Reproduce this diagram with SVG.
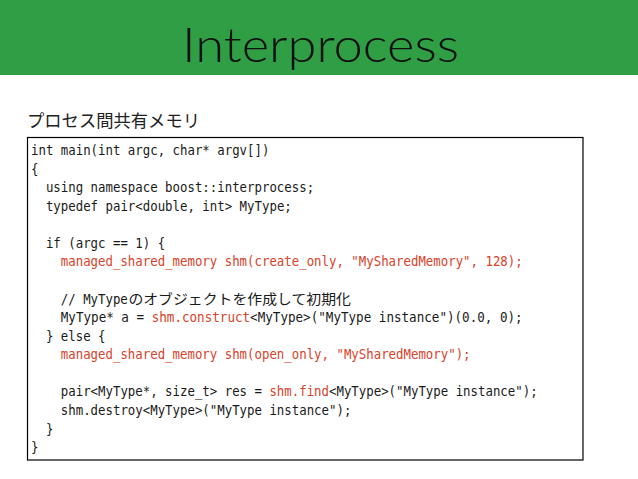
<svg xmlns="http://www.w3.org/2000/svg" width="638" height="479" viewBox="0 0 638 479">
<style>
.title{font-family:Lato,"Noto Sans","Liberation Sans",sans-serif;font-weight:300;font-size:47px;fill:#111}
.sub{font-family:"Noto Sans CJK JP","Noto Sans",sans-serif;font-size:17.5px;fill:#222}
.c{font-family:"DejaVu Sans Mono","Liberation Mono",monospace;font-size:14px;fill:#1a1a1a}
.r{fill:#d8432a}
.j{font-family:"Noto Sans CJK JP",sans-serif;font-size:14px;fill:#1a1a1a}
</style>
<g id="header">
<rect x="0" y="0" width="638" height="75" fill="#2f9e44"/>
<text class="title" x="182" y="62" textLength="277" lengthAdjust="spacingAndGlyphs">Interprocess</text>
</g>
<g id="subtitle">
<text class="sub" x="27" y="127" textLength="173" lengthAdjust="spacingAndGlyphs">プロセス間共有メモリ</text>
</g>
<g id="code">
<rect x="27.5" y="137.5" width="555.5" height="322.5" fill="#fff" stroke="#000" stroke-width="1.2"/>
<text class="c" x="31" y="155" textLength="238.4" lengthAdjust="spacingAndGlyphs">int main(int argc, char* argv[])</text>
<text class="c" x="31" y="173.6" textLength="7.45" lengthAdjust="spacingAndGlyphs">{</text>
<text class="c" x="45.9" y="192.1" textLength="268.2" lengthAdjust="spacingAndGlyphs">using namespace boost::interprocess;</text>
<text class="c" x="45.9" y="210.7" textLength="245.9" lengthAdjust="spacingAndGlyphs">typedef pair&lt;double, int&gt; MyType;</text>
<text class="c" x="45.9" y="247.8" textLength="119.2" lengthAdjust="spacingAndGlyphs">if (argc == 1) {</text>
<text class="c r" x="60.8" y="266.4" textLength="461.9" lengthAdjust="spacingAndGlyphs">managed_shared_memory shm(create_only, "MySharedMemory", 128);</text>
<text class="c" x="60.8" y="303.6" textLength="67" lengthAdjust="spacingAndGlyphs">// MyType</text>
<text class="j" x="128.4" y="303.6" textLength="222.5" lengthAdjust="spacingAndGlyphs">のオブジェクトを作成して初期化</text>
<text class="c" x="60.8" y="322.1" textLength="461.9" lengthAdjust="spacingAndGlyphs">MyType* a = <tspan class="r">shm.construct</tspan>&lt;MyType&gt;("MyType instance")(0.0, 0);</text>
<text class="c" x="45.9" y="340.7" textLength="59.6" lengthAdjust="spacingAndGlyphs">} else {</text>
<text class="c r" x="60.8" y="359.3" textLength="409.75" lengthAdjust="spacingAndGlyphs">managed_shared_memory shm(open_only, "MySharedMemory");</text>
<text class="c" x="60.8" y="396.4" textLength="476.8" lengthAdjust="spacingAndGlyphs">pair&lt;MyType*, size_t&gt; res = <tspan class="r">shm.find</tspan>&lt;MyType&gt;("MyType instance");</text>
<text class="c" x="60.8" y="415" textLength="290.55" lengthAdjust="spacingAndGlyphs">shm.destroy&lt;MyType&gt;("MyType instance");</text>
<text class="c" x="45.9" y="433.5" textLength="7.45" lengthAdjust="spacingAndGlyphs">}</text>
<text class="c" x="31" y="452.1" textLength="7.45" lengthAdjust="spacingAndGlyphs">}</text>
</g>
</svg>
